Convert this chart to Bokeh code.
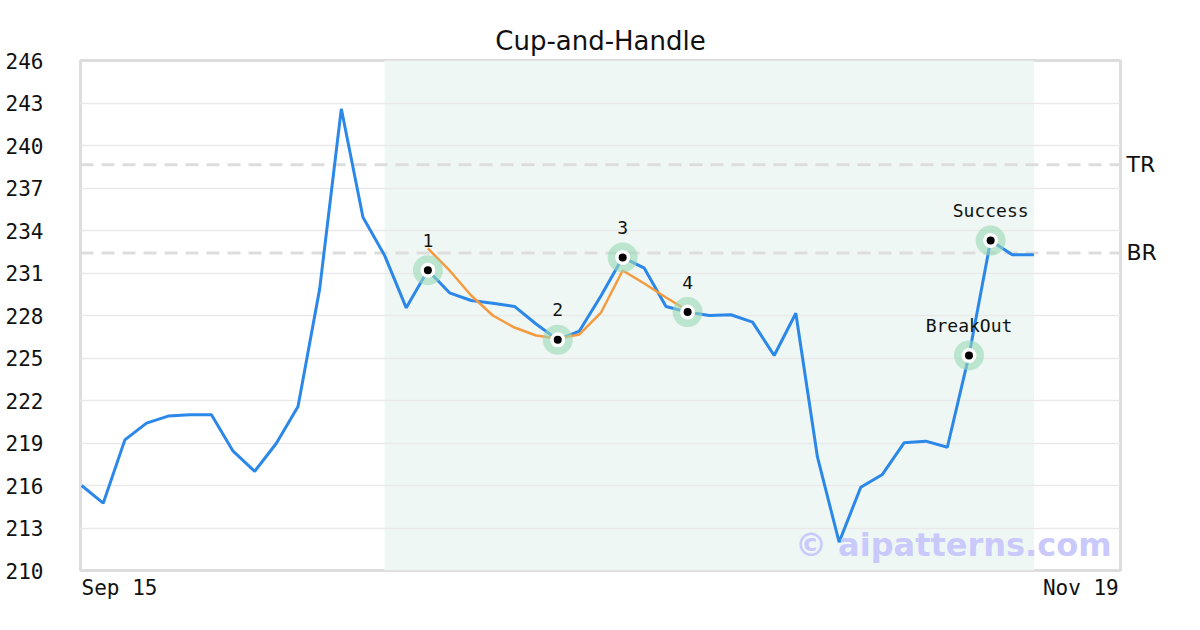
from bokeh.plotting import figure
from bokeh.models import Range1d, FixedTicker, Span, Label, ColumnDataSource, LinearAxis
from bokeh.core.properties import value
from bokeh.embed import file_html
from bokeh.resources import INLINE

# ---------------- data ----------------
price = [216.0, 214.75, 219.22, 220.4, 220.9, 221.0, 221.0, 218.42, 217.0, 218.98,
         221.58, 229.88, 242.59, 234.94, 232.24, 228.54, 231.2, 229.6, 229.06, 228.87,
         228.64, 227.4, 226.28, 226.9, 229.4, 232.1, 231.34, 228.64, 228.24, 228.0,
         228.05, 227.53, 225.18, 228.16, 218.0, 212.0, 215.88, 216.78, 219.01, 219.13,
         218.7, 225.18, 233.29, 232.28, 232.28]
days = list(range(len(price)))

fit_days = list(range(16, 29))
fit_vals = [232.73, 231.18, 229.41, 228.0, 227.15, 226.59, 226.38, 226.66, 228.21,
            231.18, 230.26, 229.27, 228.35]

pivot_days = [16, 22, 25, 28, 41, 42]
pivot_labels = ["1", "2", "3", "4", "BreakOut", "Success"]

pattern_start, pattern_end = 14, 44
tr_level, br_level = 238.64, 232.42
level_labels = ["TR", "BR"]

y_ticks = list(range(210, 247, 3))
x_tick_labels = ["Sep 15", "Nov 19"]
x_min, x_max = -0.05, 48
y_min, y_max = 210, 246
title_text = "Cup-and-Handle"
watermark = "\u00a9 aipatterns.com"

# ---------------- figure ----------------
W, H = 1200, 630
BL, BR_, BT, BB = 80, 80, 60, 60
p = figure(width=W, height=H, output_backend="svg", toolbar_location=None,
           x_range=Range1d(x_min, x_max), y_range=Range1d(y_min, y_max),
           min_border_left=BL, min_border_right=BR_, min_border_top=BT, min_border_bottom=BB)

p.outline_line_color = "#dddddd"
p.outline_line_width = 3
p.background_fill_color = "white"
p.border_fill_color = "white"

p.title.text = title_text
p.title.align = "center"
p.title.text_font = "DejaVu Sans"
p.title.text_font_size = "26px"
p.title.text_font_style = "normal"
p.title.text_color = "#111111"
p.title.standoff = 10

mono = "DejaVu Sans Mono"
tick_px = 21

# y axis (left)
yax = p.yaxis[0]
yax.ticker = FixedTicker(ticks=y_ticks)
yax.axis_line_color = None
yax.major_tick_line_color = None
yax.minor_tick_line_color = None
yax.major_tick_out = 0
yax.major_tick_in = 0
yax.major_label_text_font = mono
yax.major_label_text_font_size = f"{tick_px}px"
yax.major_label_text_color = "#111111"
yax.major_label_standoff = 37

p.ygrid.ticker = FixedTicker(ticks=y_ticks)
p.ygrid.grid_line_color = "#e9e9e9"
p.ygrid.grid_line_width = 1.5
p.xgrid.visible = False

# x axis: first/last dates, labels flush with the range ends
frame_w = W - BL - BR_
px_per_x = frame_w / (x_max - x_min)
char_w = 0.602 * tick_px
half0 = len(x_tick_labels[0]) * char_w / 2 / px_per_x
half1 = len(x_tick_labels[1]) * char_w / 2 / px_per_x
xt = [0 + half0, x_max - half1 - 0.08]
xax = p.xaxis[0]
xax.ticker = FixedTicker(ticks=xt)
xax.major_label_overrides = {xt[0]: x_tick_labels[0], xt[1]: x_tick_labels[1]}
xax.axis_line_color = None
xax.major_tick_line_color = None
xax.minor_tick_line_color = None
xax.major_tick_out = 0
xax.major_tick_in = 0
xax.major_label_text_font = mono
xax.major_label_text_font_size = f"{tick_px}px"
xax.major_label_text_color = "#111111"
xax.major_label_standoff = 5

# right axis for TR / BR level names
rax = LinearAxis(ticker=FixedTicker(ticks=[tr_level, br_level]),
                 major_label_overrides={tr_level: level_labels[0], br_level: level_labels[1]},
                 axis_line_color=None, major_tick_line_color=None, minor_tick_line_color=None,
                 major_tick_out=0, major_tick_in=0, major_label_standoff=6,
                 major_label_text_font="DejaVu Sans", major_label_text_font_size="22px",
                 major_label_text_color="#111111")
p.add_layout(rax, "right")

# pattern shading (below grid)
shade = p.quad(left=[pattern_start], right=[pattern_end], bottom=[y_min], top=[y_max],
               fill_color="#eef7f3", line_color=None)
shade.level = "image"

# TR / BR levels
for lvl in [tr_level, br_level]:
    p.add_layout(Span(location=lvl, dimension="width", line_color="#dddddd",
                      line_width=3, line_dash="13 8", level="underlay"))

# price and fitted cup line
p.line(days, price, line_color="#2b87e8", line_width=3)
p.line(fit_days, fit_vals, line_color="#f59a3f", line_width=2.5)

# pivot markers
piv_y = [price[d] for d in pivot_days]
src = ColumnDataSource(dict(x=pivot_days, y=piv_y, t=pivot_labels))
p.scatter("x", "y", source=src, size=30, fill_color="#9ad9b8", fill_alpha=0.6, line_color=None)
p.scatter("x", "y", source=src, size=15, fill_color="white", line_color=None)
p.scatter("x", "y", source=src, size=8, fill_color="black", line_color=None)
p.text("x", "y", text="t", source=src, y_offset=-30, text_align="center",
       text_baseline="middle", text_font=value(mono),
       text_font_size="18px", text_color="#111111")

# watermark
p.add_layout(Label(x=x_max, y=y_min, x_offset=-9, y_offset=26, text=watermark,
                   text_align="right", text_baseline="alphabetic",
                   text_font="DejaVu Sans", text_font_style="bold",
                   text_font_size="32px", text_color="#c9c9fb"))

open("out.html", "w").write(file_html(p, INLINE))
